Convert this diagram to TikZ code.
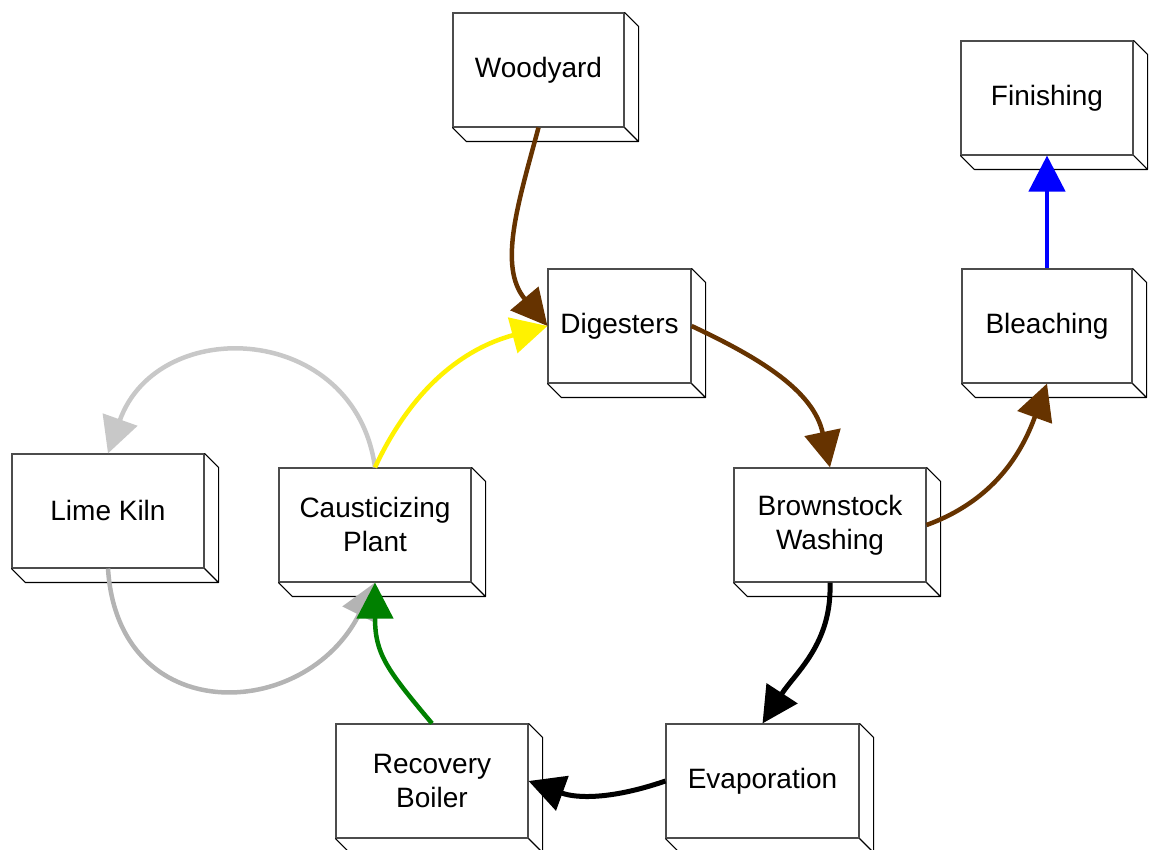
\documentclass[tikz,border=0pt]{standalone}
\usepackage{fontspec}
\setmainfont{Liberation Sans}
\usepackage{tikz}
\usetikzlibrary{arrows.meta}
\definecolor{pulpbrown}{RGB}{102,51,0}
\definecolor{limegray}{RGB}{200,200,200}
\definecolor{mudgray}{RGB}{180,180,180}
\definecolor{liquorgreen}{RGB}{0,128,0}

\begin{document}
\begin{tikzpicture}[x=1pt,y=1pt,
    plantbox/.style={rectangle,draw=black!70,line width=1.1pt,fill=white,minimum width=#1,minimum height=114pt,inner sep=0pt,align=center,font=\fontsize{28}{34}\selectfont},
    plantbox/.default=192pt,
    flow/.style={line width=4.5pt,-{Triangle[length=36pt,width=36pt]}}]
  \useasboundingbox (0,0) rectangle (1151,850);
  % mill stages
  \node[plantbox=171pt] (wood) at (538.5,780) {Woodyard};
  \node[plantbox=172pt] (fin) at (1047,752) {Finishing};
  \node[plantbox=143pt] (dig) at (619.5,524) {Digesters};
  \node[plantbox=170pt] (bleach) at (1047,524) {Bleaching};
  \node[plantbox] (lime) at (108,339) {Lime Kiln};
  \node[plantbox] (caust) at (375,325) {Causticizing\\Plant};
  \node[plantbox] (brown) at (830,325) {Brownstock\\Washing};
  \node[plantbox] (recov) at (432,69) {Recovery\\Boiler};
  \node[plantbox=193pt] (evap) at (762.5,69) {Evaporation};
  % depth of the boxes
  \foreach \n in {wood,fin,dig,bleach,lime,caust,brown,recov,evap}
    \draw[line width=1.1pt,line join=round] (\n.north east) -- ++(14,-14) |- ([shift={(14,-14)}]\n.south west) -- (\n.south west)
      (\n.south east) -- ++(14,-14);
  % lime cycle
  \draw[flow,limegray] (caust.north) .. controls +(-20,145) and +(50,140) .. (lime.north);
  \draw[flow,mudgray] (lime.south) .. controls +(10,-160) and +(-70,-140) .. (caust.south);
  % fibre line
  \draw[flow,pulpbrown] (wood.south) to[out=-105,in=130] (dig.west);
  \draw[flow,yellow] (caust.north) to[out=65,in=195] (dig.west);
  \draw[flow,pulpbrown] (dig.east) to[out=-25,in=102] (brown.north);
  \draw[flow,pulpbrown] (brown.east) to[out=20,in=-110] (bleach.south);
  \draw[flow,blue] (bleach.north) -- (fin.south);
  % liquor line
  \draw[flow,black,line width=5pt] (brown.south) to[out=-88,in=57] (evap.north);
  \draw[flow,black,line width=5pt] (evap.west) to[out=199,in=-20] (recov.east);
  \draw[flow,liquorgreen] (recov.north) to[out=130,in=-90,looseness=1.2] (caust.south);
\end{tikzpicture}
\end{document}
